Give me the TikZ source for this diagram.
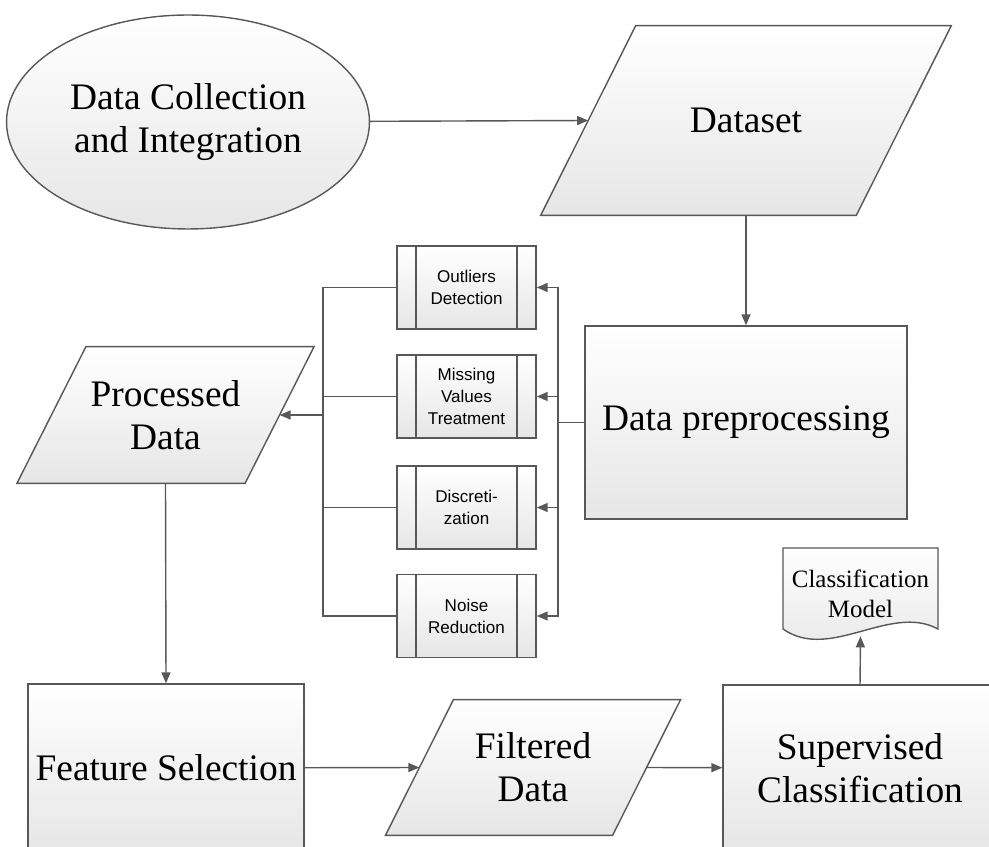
\documentclass[tikz,border=0pt]{standalone}
\usepackage{fontspec}
\setmainfont{Liberation Serif}
\setsansfont{Liberation Sans}
\usetikzlibrary{shapes.geometric,arrows.meta,backgrounds}
\definecolor{linegray}{RGB}{88,88,88}
\definecolor{fillgray}{RGB}{230,230,230}
\tikzset{
  shade box/.style = {draw = linegray, line width = 0.8pt, top color = white, bottom color = fillgray},
  big text/.style = {font = \fontsize{21.3}{24.6}\selectfont, align = center},
  block/.style = {shade box, big text, rectangle, inner sep = 0pt},
  iotext/.style = {big text, rectangle, inner sep = 0pt},
  subproc/.style = {shade box, rectangle, align = center, inner sep = 0pt,
    font = \sffamily\fontsize{9.7}{12.5}\selectfont,
    minimum width = 2.78cm, minimum height = 1.66cm,
    path picture = {
      \draw[linegray, line width = 0.8pt]
        ([xshift = 0.38cm]path picture bounding box.north west) -- ([xshift = 0.38cm]path picture bounding box.south west)
        ([xshift = -0.38cm]path picture bounding box.north east) -- ([xshift = -0.38cm]path picture bounding box.south east);
    }},
  link/.style = {draw = linegray, line width = 0.8pt},
  arrow/.style = {link, -{Triangle[length = 0.22cm, width = 0.18cm]}}
}
% slanted input/output box behind a text node: #1 node name, #2 half slant
\newcommand{\ioshape}[2]{%
  \begin{pgfonlayer}{background}
    \draw[shade box] ([xshift = -#2]#1.south west) -- ([xshift = -#2]#1.south east)
      -- ([xshift = #2]#1.north east) -- ([xshift = #2]#1.north west) -- cycle;
  \end{pgfonlayer}}
\begin{document}
\begin{tikzpicture}[x = 0.02cm, y = -0.02cm]
    \useasboundingbox (0,0) rectangle (989,847);
    \clip (0,0) rectangle (989,847);

    % top row
    \node[shade box, big text, ellipse, inner sep = 0pt, minimum width = 7.26cm, minimum height = 4.28cm] (coll) at (188,122) {Data Collection\\and Integration};
    \node[iotext, minimum width = 6.3cm, minimum height = 3.78cm] (dataset) at (746,120.5) {Dataset};
    \ioshape{dataset}{0.95cm}
    \node[block, minimum width = 6.44cm, minimum height = 3.86cm] (dpre) at (746,422.5) {Data preprocessing};

    % preprocessing tasks
    \node[subproc] (outl) at (466.5,287.5) {Outliers\\Detection};
    \node[subproc] (miss) at (466.5,396.5) {Missing\\Values\\Treatment};
    \node[subproc] (disc) at (466.5,507.5) {Discreti-\\zation};
    \node[subproc] (noise) at (466.5,616) {Noise\\Reduction};

    \node[iotext, minimum width = 4.55cm, minimum height = 2.72cm] (proc) at (165.5,415) {Processed\\Data};
    \ioshape{proc}{0.69cm}

    % bottom row
    \node[block, minimum width = 5.52cm, minimum height = 3.36cm] (feat) at (166,768) {Feature Selection};
    \node[iotext, minimum width = 4.53cm, minimum height = 2.7cm] (filt) at (533,767.5) {Filtered\\Data};
    \ioshape{filt}{0.68cm}
    \node[block, minimum width = 5.48cm, minimum height = 3.32cm] (sup) at (860,768) {Supervised\\Classification};

    % document
    \draw[shade box] (783,548) -- (938,548) -- (938,629)
        .. controls (890,603) and (830,662) .. (783,629) -- cycle;
    \node[align = center, inner sep = 0pt, minimum width = 3.1cm, minimum height = 1.68cm,
        font = \fontsize{14.2}{17}\selectfont] (model) at (860.5,594) {Classification\\Model};

    \coordinate (rbus) at (558,422.5);
    \coordinate (lbus) at (323,415);

    \draw[arrow] (coll) -- (dataset.west);
    \draw[arrow] (dataset.south) -- (dpre.north);
    \draw[link] (dpre.west) -- (rbus);
    \foreach \b in {outl, miss, disc, noise} {
        \draw[arrow] (rbus) |- (\b.east);
        \draw[link] (\b.west) -| (lbus);
    }
    \draw[arrow] (lbus) -- (proc.east);
    \draw[arrow] (proc.south) -- (feat.north);
    \draw[arrow] (feat) -- (filt.west);
    \draw[arrow] (filt.east) -- (sup);
    \draw[arrow] (sup.north) -- (model.south);
\end{tikzpicture}
\end{document}
